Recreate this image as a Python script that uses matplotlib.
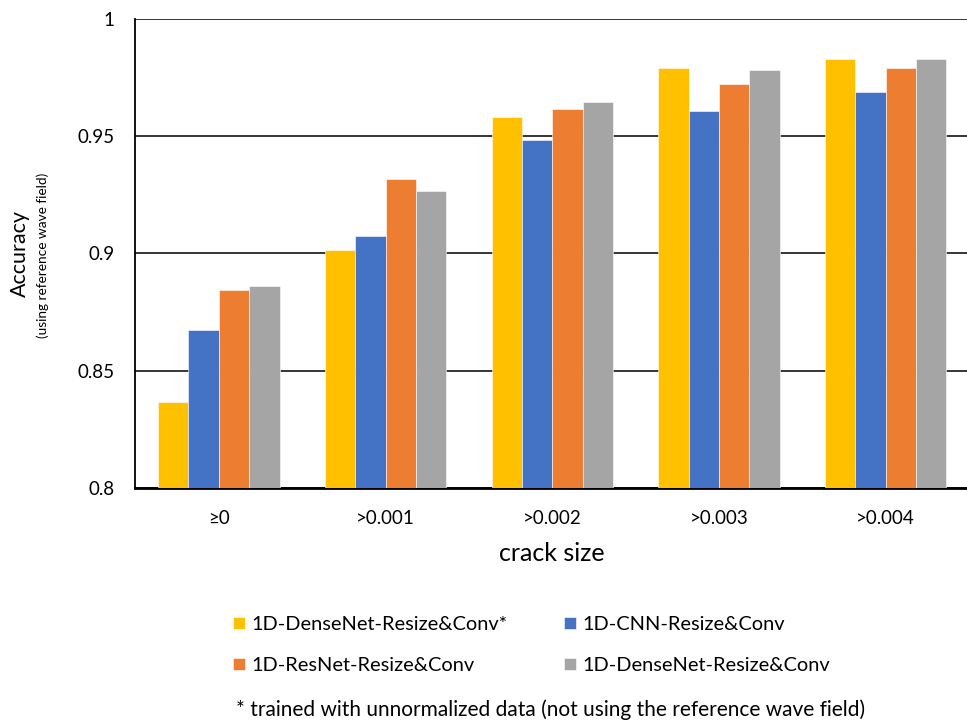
import numpy as np
import matplotlib
matplotlib.use('Agg')
import matplotlib.pyplot as plt

plt.rcParams['font.family'] = ['Lato', 'DejaVu Sans']

# accuracy for each crack size threshold
categories = ['\u22650', '>0.001', '>0.002', '>0.003', '>0.004']
dense_unnorm = [0.8366, 0.9013, 0.9583, 0.9791, 0.9829]
cnn = [0.8673, 0.9075, 0.9483, 0.9608, 0.9688]
resnet = [0.8842, 0.9317, 0.9614, 0.9721, 0.9789]
densenet = [0.8860, 0.9267, 0.9644, 0.9781, 0.9829]

names = ['1D-DenseNet-Resize&Conv*', '1D-CNN-Resize&Conv',
         '1D-ResNet-Resize&Conv', '1D-DenseNet-Resize&Conv']
colors = ['#FFC000', '#4472C4', '#ED7D31', '#A5A5A5']

fig = plt.figure(figsize=(9.67, 7.23), dpi=100)
ax = fig.add_axes([0.1401, 0.3255, 0.862, 0.6482])

ind = np.arange(len(categories))
width = 0.182
series = [dense_unnorm, cnn, resnet, densenet]
rects = []
for i, vals in enumerate(series):
    r = ax.bar(ind + (i - 1.5) * width, vals, width, color=colors[i],
               edgecolor='white', linewidth=0.4, zorder=3, label=names[i])
    rects.append(r)

ax.set_xlim(-0.5, len(categories) - 0.5)
ax.set_ylim(0.8, 1.0)
ax.set_yticks([0.8, 0.85, 0.9, 0.95, 1.0])
ax.set_yticklabels(['0.8', '0.85', '0.9', '0.95', '1'])
ax.set_xticks(ind)
ax.set_xticklabels(categories)
ax.tick_params(axis='both', length=0, labelsize=13.5, colors='black')
ax.tick_params(axis='y', pad=15)
ax.tick_params(axis='x', pad=16)

ax.yaxis.grid(True, color='#262626', linewidth=1.3, zorder=0)
ax.set_axisbelow(True)
for s in ['top', 'right']:
    ax.spines[s].set_visible(False)
ax.spines['left'].set_color('black')
ax.spines['left'].set_linewidth(1.3)
ax.spines['bottom'].set_color('black')
ax.spines['bottom'].set_linewidth(2)

ax.set_xlabel('crack size', fontsize=18, labelpad=11)

# two-line y label
fig.text(0.021, 0.65, 'Accuracy', rotation=90, fontsize=15.5,
         ha='center', va='center')
fig.text(0.0445, 0.647, '(using reference wave field)', rotation=90,
         fontsize=9.8, ha='center', va='center')

# legend: rows [A B; C D], filled column by column
order = [0, 2, 1, 3]
fig.legend([rects[i][0] for i in order], [names[i] for i in order],
           loc='upper left', bbox_to_anchor=(0.241, 0.148), ncol=2,
           frameon=False, fontsize=14.4, handlelength=0.6,
           handleheight=0.6, handletextpad=0.3, columnspacing=2.85,
           labelspacing=1.2, borderpad=0, borderaxespad=0)

fig.text(0.244, 0.018, '* trained with unnormalized data (not using the reference wave field)',
         fontsize=15, ha='left', va='center')

fig.savefig('out.png', dpi=100)
